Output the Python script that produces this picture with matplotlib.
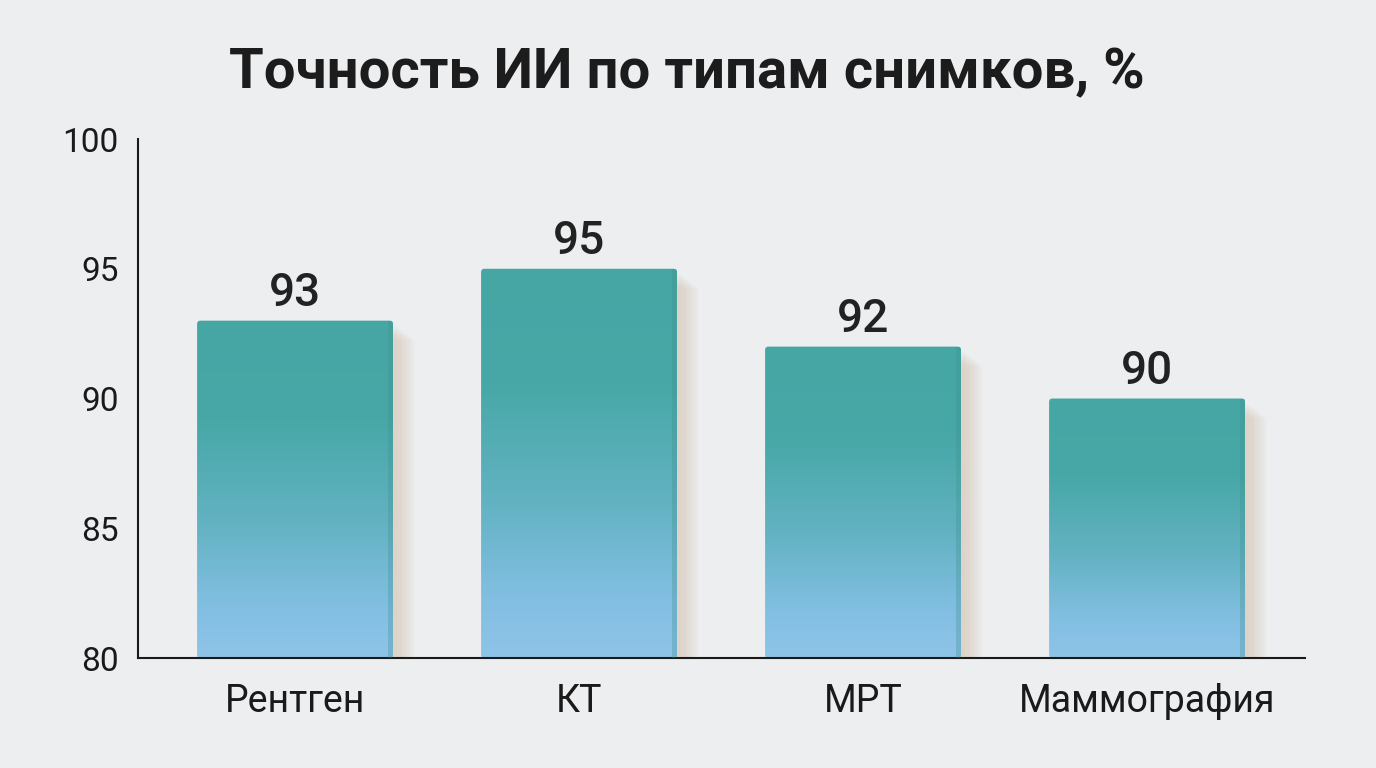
import matplotlib.pyplot as plt
import numpy as np
from matplotlib.patches import FancyBboxPatch, Rectangle
from matplotlib.colors import LinearSegmentedColormap

categories = ["Рентген", "КТ", "МРТ", "Маммография"]
values = [93, 95, 92, 90]
y_ticks = [80, 85, 90, 95, 100]

plt.rcParams["font.family"] = ["Roboto", "DejaVu Sans"]

BG = "#eceef0"
BAR_W = 0.69
cmap = LinearSegmentedColormap.from_list(
    "bar", [(0.0, "#45a6a4"), (0.3, "#47a8a7"), (0.6, "#63b2c2"),
            (0.85, "#82bfe2"), (1.0, "#8ec4e8")])

fig = plt.figure(figsize=(13.76, 7.68), dpi=100, facecolor=BG)
ax = fig.add_axes([0.1003, 0.1432, 0.8481, 0.6758])
ax.set_facecolor(BG)

x = np.arange(len(categories))
grad = np.linspace(0, 1, 256).reshape(-1, 1)  # row 0 = top of bar

for xi, v in zip(x, values):
    x0 = xi - BAR_W / 2
    # soft shadow to the right
    for k in range(10):
        ax.add_patch(Rectangle((x0 + 0.015 + k * 0.007, 80), BAR_W, v - 80 - 0.2 - k * 0.06,
                               facecolor="#cfb49a", alpha=0.05, edgecolor="none", zorder=1))
    patch = FancyBboxPatch((x0, 80), BAR_W, v - 80,
                           boxstyle="round,pad=0,rounding_size=0.012",
                           mutation_aspect=(20 / 4.11) * (1167 / 519),
                           facecolor="none", edgecolor="none", zorder=2)
    ax.add_patch(patch)
    im = ax.imshow(grad, cmap=cmap, extent=(x0, x0 + BAR_W, 80, v),
                   aspect="auto", zorder=2, interpolation="bicubic")
    im.set_clip_path(patch)
    # darker right edge
    side = Rectangle((x0 + BAR_W - 0.018, 80), 0.018, v - 80,
                     facecolor="#3d8f8c", alpha=0.3, edgecolor="none", zorder=3)
    ax.add_patch(side)
    side.set_clip_path(patch)
    ax.annotate(str(v), (xi, v), xytext=(0, 4), textcoords="offset points",
                ha="center", va="bottom", fontsize=33, fontweight="medium",
                color="#222222")

ax.set_xlim(-0.553, 3.556)
ax.set_ylim(80, 100)
ax.set_yticks(y_ticks)
ax.set_xticks(x)
ax.set_xticklabels(categories, fontsize=27)
ax.tick_params(axis="both", length=0, colors="#1a1a1a")
ax.tick_params(axis="y", labelsize=24, pad=14)
ax.tick_params(axis="x", pad=18)
for s in ["top", "right"]:
    ax.spines[s].set_visible(False)
for s in ["left", "bottom"]:
    ax.spines[s].set_color("#1a1a1a")
    ax.spines[s].set_linewidth(1.5)

fig.text(0.499, 0.905, "Точность ИИ по типам снимков, %", ha="center", va="center",
         fontsize=40.5, fontweight="bold", color="#1c1c1c")

fig.savefig("out.png", dpi=100, facecolor=BG)
